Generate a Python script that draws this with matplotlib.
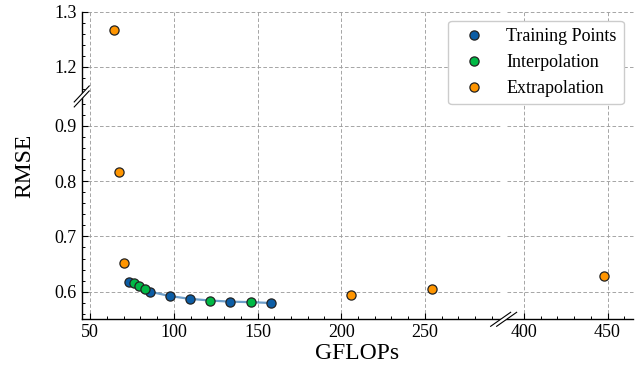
import numpy as np
import matplotlib
matplotlib.use('Agg')
import matplotlib.pyplot as plt
from matplotlib.lines import Line2D
from matplotlib.patches import Polygon
from matplotlib.transforms import IdentityTransform

plt.rcParams['font.family'] = 'serif'
plt.rcParams['font.serif'] = ['Liberation Serif', 'DejaVu Serif']
plt.rcParams['lines.scale_dashes'] = False

# values
train_gflops = [73.3, 85.8, 97.7, 109.7, 133.5, 158.0]
train_rmse = [0.617, 0.600, 0.592, 0.587, 0.582, 0.5795]
interp_gflops = [76.3, 79.4, 82.6, 121.6, 146.1]
interp_rmse = [0.6155, 0.611, 0.605, 0.584, 0.581]
extrap_gflops = [64.5, 67.5, 70.4, 206.1, 254.5, 448.0]
extrap_rmse = [1.267, 0.817, 0.651, 0.594, 0.604, 0.629]

x_ticks = [50, 100, 150, 200, 250, 400, 450]
y_ticks = [0.6, 0.7, 0.8, 0.9, 1.2, 1.3]

# broken axis ranges
x_parts = [(45, 295), (390, 465)]
y_parts = [(0.55, 0.95), (1.15, 1.3)]

colors = {'train': '#0C5DA5', 'interp': '#00B945', 'extrap': '#FF9500'}


def make_break(lo_end, hi_start, gap):
    """piecewise linear scale squeezing (lo_end, hi_start) into gap"""
    shift = hi_start - lo_end - gap

    def fwd(v):
        v = np.asarray(v, dtype=float)
        return np.where(v <= lo_end, v,
                        np.where(v >= hi_start, v - shift,
                                 lo_end + (v - lo_end) * gap / (hi_start - lo_end)))

    def inv(u):
        u = np.asarray(u, dtype=float)
        return np.where(u <= lo_end, u,
                        np.where(u >= lo_end + gap, u + shift,
                                 lo_end + (u - lo_end) * (hi_start - lo_end) / gap))
    return fwd, inv


fig = plt.figure(figsize=(6.41, 3.66), dpi=100)
ax = fig.add_axes([0.1275, 0.1276, 0.8595, 0.8404])

ax.set_xscale('function', functions=make_break(x_parts[0][1], x_parts[1][0], 4.1))
ax.set_yscale('function', functions=make_break(y_parts[0][1], y_parts[1][0], 0.0067))
ax.set_xlim(x_parts[0][0], x_parts[1][1])
ax.set_ylim(y_parts[0][0], y_parts[1][1])

# grid, horizontal lines are cut at the x break
grid_kw = dict(color='0.62', lw=0.65, ls=(0, (2.6, 1.6)), zorder=0)
for yv in y_ticks:
    for a, b in x_parts:
        ax.plot([a, b], [yv, yv], clip_on=False, **grid_kw)
for xv in x_ticks:
    ax.plot([xv, xv], [y_parts[0][0], y_parts[1][1]], **grid_kw)

# fitted curve through the training / interpolation points
fit_x = np.concatenate([train_gflops, interp_gflops])
fit_y = np.concatenate([train_rmse, interp_rmse])
order = np.argsort(fit_x)
ax.plot(fit_x[order], fit_y[order], color=colors['train'], alpha=0.6, lw=1.6, zorder=2)

mk = dict(ls='none', marker='o', ms=6.6, mec='#222222', mew=0.9, zorder=3)
ax.plot(train_gflops, train_rmse, color=colors['train'], label='Training Points', **mk)
ax.plot(interp_gflops, interp_rmse, color=colors['interp'], label='Interpolation', **mk)
ax.plot(extrap_gflops, extrap_rmse, color=colors['extrap'], label='Extrapolation', **mk)

ax.set_xticks(x_ticks)
ax.set_xticklabels([str(v) for v in x_ticks])
ax.set_yticks(y_ticks)
ax.set_yticklabels([f'{v:.1f}' for v in y_ticks])
x_minor = [v for a, b in x_parts for v in range(int(np.ceil(a / 10) * 10), b + 1, 10)
           if v not in x_ticks and a < v < b]
y_minor = [round(v, 2) for a, b in y_parts for v in np.arange(a + 0.01, b, 0.02)]
y_minor = [v for v in y_minor if min(abs(v - t) for t in y_ticks) > 1e-6]
ax.set_xticks(x_minor, minor=True)
ax.set_yticks(y_minor, minor=True)

for s in ['top', 'right']:
    ax.spines[s].set_visible(False)
for s in ['left', 'bottom']:
    ax.spines[s].set_linewidth(1.0)
ax.tick_params(which='both', direction='in', top=False, right=False, labelsize=13)
ax.tick_params(which='major', length=4, width=0.8)
ax.tick_params(which='minor', length=2, width=0.7)

ax.set_xlabel('GFLOPs', fontsize=17, labelpad=1)
ax.set_ylabel('RMSE', fontsize=17, labelpad=14)

ax.legend(loc='upper right', fontsize=13, numpoints=1, framealpha=1,
          edgecolor='0.8', borderaxespad=0.5)


# break marks drawn in pixels on the spines
def break_mark(cx, cy, dx, dy, ox, oy):
    px = IdentityTransform()
    quad = [(cx - dx - ox, cy - dy - oy), (cx + dx - ox, cy + dy - oy),
            (cx + dx + ox, cy + dy + oy), (cx - dx + ox, cy - dy + oy)]
    fig.add_artist(Polygon(quad, closed=True, fc='white', ec='none',
                           transform=px, zorder=5))
    for s in (-1, 1):
        fig.add_artist(Line2D([cx - dx + s * ox, cx + dx + s * ox],
                              [cy - dy + s * oy, cy + dy + s * oy],
                              color='black', lw=0.8, transform=px, zorder=6))


cx, cy = ax.transData.transform((x_parts[0][0], 1.05))
break_mark(cx, cy, 7.5, 8.0, 0, 2.5)
cx, cy = ax.transData.transform((342, y_parts[0][0]))
break_mark(cx, cy, 10.0, 7.0, 3.0, 0)

fig.savefig('out.png', dpi=100)
